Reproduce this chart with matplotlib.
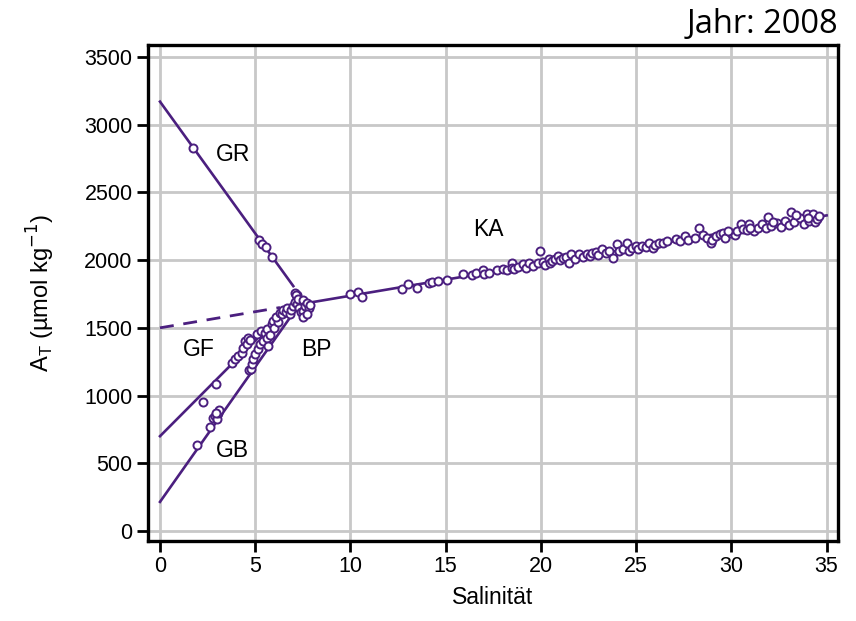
import matplotlib
matplotlib.use("Agg")
import matplotlib.pyplot as plt

# Farbe der Daten
lila = "#4b1f7f"

# Messpunkte (Salinität, A_T) je Gebiet
gr_x = [1.75, 5.2, 5.35, 5.55, 5.9, 7.1, 7.2]
gr_y = [2830, 2150, 2120, 2100, 2020, 1760, 1740]

gf_x = [2.27, 2.94, 3.78, 3.94, 4.1, 4.3, 4.36, 4.45, 4.55, 4.6, 4.75, 5.1, 5.3, 5.5, 5.6, 5.87, 5.95]
gf_y = [949, 1088, 1243, 1272, 1294, 1316, 1353, 1404, 1382, 1426, 1410, 1455, 1480, 1463, 1492, 1529, 1551]

gb_x = [1.94, 2.62, 2.8, 2.88, 2.97, 3.0, 3.05, 3.1, 2.95, 4.67, 4.8, 4.82, 4.9, 5.0, 5.15, 5.25, 5.4, 5.6, 5.67, 5.8, 6.0, 6.2]
gb_y = [632, 765, 831, 846, 853, 830, 868, 890, 870, 1191, 1198, 1235, 1272, 1309, 1345, 1382, 1404, 1426, 1368, 1450, 1500, 1540]

bp_x = [6.1, 6.3, 6.4, 6.45, 6.6, 6.65, 6.8, 6.9, 7.0, 7.1, 7.14, 7.2, 7.25, 7.3, 7.4, 7.5, 7.5, 7.5, 7.6, 7.7, 7.8, 7.7, 7.9]
bp_y = [1581, 1610, 1603, 1632, 1620, 1647, 1600, 1632, 1660, 1690, 1743, 1676, 1713, 1650, 1620, 1706, 1625, 1581, 1660, 1684, 1647, 1600, 1670]

ka_x = [10.0, 10.4, 10.6, 12.7, 13.0, 13.5, 14.1, 14.3, 14.6, 15.05, 15.9, 16.4, 16.6, 16.95, 17.0, 17.3, 17.7, 18.0,
        18.2, 18.5, 18.5, 18.6, 18.8, 19.05, 19.2, 19.4, 19.6, 19.85, 19.94, 20.1, 20.2, 20.4, 20.5, 20.6, 20.75, 20.9,
        21.0, 21.15, 21.3, 21.5, 21.6, 21.8, 22.0, 22.2, 22.4, 22.6, 22.7, 22.9, 23.0, 23.2, 23.4, 23.6, 23.8, 24.0,
        24.1, 24.3, 24.5, 24.6, 24.8, 25.0, 25.1, 25.3, 25.5, 25.7, 25.9, 26.0, 26.2, 26.4, 26.6, 27.1, 27.3, 27.55,
        27.7, 28.1, 28.3, 28.5, 28.7, 28.95, 29.0, 29.2, 29.4, 29.55, 29.65, 30.0, 30.2, 30.3, 30.5, 30.6, 30.8, 30.95,
        31.2, 31.4, 31.6, 31.8, 31.9, 32.1, 32.4, 32.6, 32.8, 33.0, 33.15, 33.3, 33.6, 33.8, 33.95, 34.1, 34.3, 34.4, 34.5,
        32.2, 33.4, 34.0, 34.6, 31.0, 29.8]
ka_y = [1748, 1765, 1728, 1784, 1823, 1794, 1831, 1838, 1845, 1853, 1897, 1890, 1905, 1926, 1895, 1905, 1926, 1934,
        1925, 1978, 1941, 1934, 1950, 1970, 1945, 1978, 1960, 1978, 2066, 1985, 1962, 2007, 1975, 1992, 2005, 2029,
        1998, 2015, 2022, 1978, 2044, 2010, 2044, 2025, 2044, 2030, 2051, 2060, 2035, 2081, 2051, 2070, 2015, 2117,
        2066, 2080, 2125, 2066, 2090, 2103, 2085, 2103, 2095, 2125, 2088, 2110, 2125, 2125, 2140, 2154, 2140, 2176,
        2150, 2162, 2235, 2184, 2160, 2125, 2150, 2175, 2191, 2198, 2162, 2200, 2185, 2213, 2265, 2230, 2220, 2265,
        2213, 2240, 2265, 2235, 2316, 2250, 2272, 2245, 2287, 2260, 2353, 2280, 2309, 2270, 2338, 2290, 2338, 2280, 2301,
        2280, 2330, 2310, 2325, 2240, 2215]

# Regressionsgeraden (Endpunkte)
gr_line_x, gr_line_y = [0, 7.0], [3170, 1808]
gf_line_x, gf_line_y = [0, 6.8], [700, 1660]
gb_line_x, gb_line_y = [0, 7.3], [215, 1670]
ka_line_x, ka_line_y = [7.3, 35], [1673, 2330]
ka_ext_x, ka_ext_y = [0, 6.3], [1500, 1650]

# Beschriftungen der Gebiete
labels = ["GR", "KA", "GF", "BP", "GB"]
label_x = [3.83, 17.26, 2.05, 8.2, 3.8]
label_y = [2780, 2228, 1338, 1338, 596]

plt.rcParams["font.family"] = ["Liberation Sans", "DejaVu Sans"]

fig = plt.figure(figsize=(8.56, 6.21), dpi=100)
ax = fig.add_axes([0.1729, 0.1288, 0.8061, 0.7987])

for lx, ly in [(gr_line_x, gr_line_y), (gf_line_x, gf_line_y), (gb_line_x, gb_line_y), (ka_line_x, ka_line_y)]:
    ax.plot(lx, ly, color=lila, lw=1.9, zorder=2)
ax.plot(ka_ext_x, ka_ext_y, color=lila, lw=2.0, ls=(0, (5, 3.5)), zorder=2)

for px, py in [(gr_x, gr_y), (gf_x, gf_y), (gb_x, gb_y), (bp_x, bp_y), (ka_x, ka_y)]:
    ax.plot(px, py, "o", ms=5.8, mfc="white", mec=lila, mew=1.4, zorder=3)

for t, tx, ty in zip(labels, label_x, label_y):
    ax.text(tx, ty, t, fontsize=16.5, ha="center", va="center", zorder=4)

ax.set_xlim(-0.63, 35.6)
ax.set_ylim(-74, 3588)
ax.set_xticks(range(0, 36, 5))
ax.set_yticks(range(0, 3501, 500))
ax.grid(True, color="#c8c8c8", lw=2.0, zorder=0)
ax.set_axisbelow(True)
for s in ax.spines.values():
    s.set_linewidth(2.4)
ax.tick_params(direction="out", length=8, width=2, labelsize=15.5, pad=3)

ax.set_xlabel("Salinität", fontsize=16.5, labelpad=6)
ax.set_ylabel(r"A$_\mathregular{T}$ (µmol kg$^{-1}$)", fontsize=17, labelpad=20)

fig.text(0.979, 0.960, "Jahr: 2008", fontsize=23.5, ha="right", va="center", family=["Open Sans", "DejaVu Sans"])

plt.savefig("out.png", dpi=100)
